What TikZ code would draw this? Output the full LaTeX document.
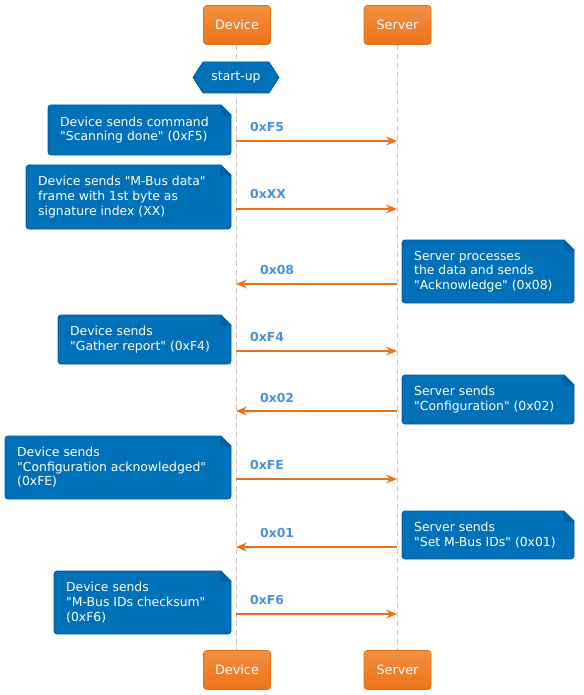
\documentclass[tikz,border=0pt]{standalone}
\usepackage{fontspec}
\setmainfont{DejaVu Sans}[Ligatures=TeXOff]
\usetikzlibrary{arrows.meta,shapes.misc}
\definecolor{notefill}{HTML}{0070B8}
\definecolor{noteline}{HTML}{005A96}
\definecolor{notefold}{HTML}{0062A4}
\definecolor{orangetop}{HTML}{F29042}
\definecolor{orangebot}{HTML}{EB7318}
\definecolor{orangeline}{HTML}{E06E16}
\definecolor{arrowcol}{HTML}{EE7115}
\definecolor{labelcol}{HTML}{4A8FE0}
\definecolor{lifecol}{HTML}{C8C8C8}
\tikzset{
  partbox/.style={draw=orangeline, line width=0.6pt, rounded corners=3pt, top color=orangetop, bottom color=orangebot, minimum width=67pt, minimum height=39pt, inner sep=0pt, text=white, font=\fontsize{12.8}{14}\selectfont},
  lifeline/.style={draw=lifecol, line width=0.9pt, dash pattern=on 5pt off 4pt},
  msg/.style={draw=arrowcol, line width=2.7pt, -{Stealth[length=11pt,width=9pt,inset=4pt]}},
  msglabel/.style={text=labelcol, font=\fontsize{12.4}{14}\bfseries\selectfont, inner sep=0pt, anchor=west},
  notetext/.style={text=white, font=\fontsize{12.4}{14.6}\selectfont, align=left, inner sep=0pt, anchor=west},
  noteshape/.style={fill=notefill, draw=noteline, line width=0.7pt},
  foldshape/.style={fill=notefold, draw=noteline, line width=0.7pt, line join=round},
}
% \mynote{x1}{y1}{x2}{y2}{name}{text}
\newcommand{\mynote}[6]{%
  \path[noteshape] (#3-10,#2) [rounded corners=3pt] -- (#1,#2) -- (#1,#4) -- (#3,#4) [sharp corners] -- (#3,#2+10) -- cycle;
  \path[foldshape] (#3-10,#2) -- (#3-10,#2+10) -- (#3,#2+10) -- cycle;
  \node[notetext] (#5) at (#1+12,{(#2+#4)/2}) {#6};
}
\begin{document}
\begin{tikzpicture}[x=1pt,y=-1pt]
\useasboundingbox (0,0) rectangle (583,695);
% participants
\node[partbox] (devtop) at (237,25) {Device};
\node[partbox] (srvtop) at (397.5,25) {Server};
\node[partbox] (devbot) at (237,670) {Device};
\node[partbox] (srvbot) at (397.5,670) {Server};
% lifelines
\draw[lifeline] (236,45) -- (236,650);
\draw[lifeline] (397,45) -- (397,650);
% start-up hexagon
\path[fill=notefill, draw=noteline, line width=0.7pt] (193,77.5) -- (203,62) -- (269,62) -- (279,77.5) -- (269,93) -- (203,93) -- cycle;
\node[text=white, font=\fontsize{12.4}{14}\selectfont, inner sep=0pt] (startup) at (236,77.5) {start-up};
% lifeline coordinates
\foreach \i/\y in {1/141,2/209,3/284,4/351,5/411,6/479,7/547,8/614}{
  \coordinate (d\i) at (236,\y);
  \coordinate (s\i) at (397,\y);
}
% messages
\draw[msg] (d1) -- (s1);
\draw[msg] (d2) -- (s2);
\draw[msg] (s3) -- (d3);
\draw[msg] (d4) -- (s4);
\draw[msg] (s5) -- (d5);
\draw[msg] (d6) -- (s6);
\draw[msg] (s7) -- (d7);
\draw[msg] (d8) -- (s8);
\node[msglabel] (l1) at (250,127) {0xF5};
\node[msglabel] (l2) at (250,193.5) {0xXX};
\node[msglabel] (l3) at (260,270) {0x08};
\node[msglabel] (l4) at (250,337) {0xF4};
\node[msglabel] (l5) at (260,397.5) {0x02};
\node[msglabel] (l6) at (250,465) {0xFE};
\node[msglabel] (l7) at (260,532.5) {0x01};
\node[msglabel] (l8) at (250,600) {0xF6};
% notes
\mynote{48}{105}{231}{155}{n1}{Device sends command\\"Scanning done" (0xF5)}
\mynote{26}{165}{231}{229}{n2}{Device sends "M-Bus data"\\frame with 1st byte as\\signature index (XX)}
\mynote{402}{240}{574}{303}{n3}{Server processes\\the data and sends\\"Acknowledge" (0x08)}
\mynote{58}{315}{231}{364}{n4}{Device sends\\"Gather report" (0xF4)}
\mynote{402}{375}{574}{424}{n5}{Server sends\\"Configuration" (0x02)}
\mynote{5}{436}{231}{499}{n6}{Device sends\\"Configuration acknowledged"\\(0xFE)}
\mynote{402}{511}{574}{559}{n7}{Server sends\\"Set M-Bus IDs" (0x01)}
\mynote{54}{571}{231}{634}{n8}{Device sends\\"M-Bus IDs checksum"\\(0xF6)}
\end{tikzpicture}
\end{document}
